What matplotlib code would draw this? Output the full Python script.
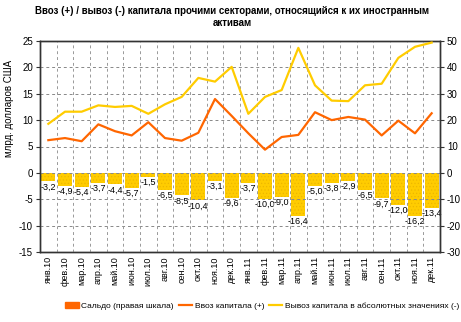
import matplotlib
matplotlib.use("Agg")
import matplotlib.pyplot as plt
import numpy as np
from matplotlib.patches import Patch
from matplotlib.lines import Line2D

plt.rcParams['font.family'] = ['Liberation Sans', 'DejaVu Sans']
plt.rcParams['hatch.linewidth'] = 0.5

months = ["янв.10", "фев.10", "мар.10", "апр.10", "май.10", "июн.10", "июл.10", "авг.10",
          "сен.10", "окт.10", "ноя.10", "дек.10", "янв.11", "фев.11", "мар.11", "апр.11",
          "май.11", "июн.11", "июл.11", "авг.11", "сен.11", "окт.11", "ноя.11", "дек.11"]
saldo = [-3.2, -4.9, -5.4, -3.7, -4.4, -5.7, -1.5, -6.5, -8.5, -10.4, -3.1, -9.6,
         -3.7, -10.0, -9.0, -16.4, -5.0, -3.8, -2.9, -6.5, -9.7, -12.0, -16.2, -13.4]
inflow = [6.2, 6.6, 6.0, 9.2, 7.9, 7.1, 9.6, 6.6, 6.1, 7.6, 14.0, 10.8,
          7.5, 4.4, 6.8, 7.2, 11.5, 10.0, 10.6, 10.1, 7.1, 9.9, 7.5, 11.3]
outflow = [9.3, 11.6, 11.6, 12.8, 12.5, 12.7, 11.2, 13.0, 14.4, 18.0, 17.3, 20.1,
           11.2, 14.4, 15.7, 23.7, 16.6, 13.7, 13.6, 16.6, 16.9, 21.8, 23.9, 24.7]

title = "Ввоз (+) / вывоз (-) капитала прочими секторами, относящийся к их иностранным\nактивам"
ylabel = "млрд. долларов США"
leg_labels = ["Сальдо (правая шкала)", "Ввоз капитала (+)", "Вывоз капитала в абсолютных значениях (-)"]

c_bar = "#FFCC00"
c_orange = "#FF6600"
c_yellow = "#FFCC00"
spine_c = "#333333"

fig = plt.figure(figsize=(4.61, 3.22), dpi=100)
ax = fig.add_axes([40/461, 1 - 252/322, 400/461, (252-41)/322])
ax2 = ax.twinx()

x = np.arange(len(months))
ax2.bar(x, saldo, width=0.84, color=c_bar, hatch='.....', edgecolor='#EDB800', linewidth=0, zorder=2)
for xi, v in zip(x, saldo):
    ax2.text(xi, v - 0.4, f"{v:.1f}".replace('.', ','), ha='center', va='top', fontsize=6.5,
             color='black', fontstretch='condensed')

ax.plot(x, inflow, color=c_orange, lw=1.6, zorder=5)
ax.plot(x, outflow, color=c_yellow, lw=1.6, zorder=5)
ax.set_zorder(ax2.get_zorder() + 1)
ax.patch.set_visible(False)

ax.set_xlim(-0.5, len(months) - 0.5)
ax.set_ylim(-15, 25)
ax2.set_ylim(-30, 50)
ax.set_yticks(np.arange(-15, 26, 5))
ax2.set_yticks(np.arange(-30, 51, 10))
ax.set_yticklabels([str(t) for t in range(-15, 26, 5)], fontsize=7)
ax2.set_yticklabels([str(t) for t in range(-30, 51, 10)], fontsize=7)

ax.set_xticks(x)
ax.set_xticklabels(months, rotation=90, fontsize=6.5)
ax.tick_params(axis='x', length=0, pad=3)
ax.tick_params(axis='y', length=3, color=spine_c, pad=2)
ax2.tick_params(axis='y', length=3, color=spine_c, pad=2)

# grid
for yv in np.arange(-10, 25, 5):
    ax.axhline(yv, color='#888888', lw=0.7, ls=(0, (3, 3)), zorder=0)
for xb in np.arange(0.5, len(months) - 1, 1):
    ax.axvline(xb, color='#999999', lw=0.7, ls=(0, (3, 3)), zorder=0)

for a in (ax, ax2):
    for s in a.spines.values():
        s.set_color(spine_c)
        s.set_linewidth(1.0)

ax.set_ylabel(ylabel, fontsize=7)
ax.yaxis.set_label_coords(-0.066, 0.68)

fig.text(232/461, 1 - 6/322, title, ha='center', va='top', fontsize=7, fontweight='bold', linespacing=1.3)

handles = [Patch(facecolor=c_orange, edgecolor=c_orange),
           Line2D([0], [0], color=c_orange, lw=1.6),
           Line2D([0], [0], color=c_yellow, lw=1.6)]
fig.legend(handles, leg_labels, loc='center right', bbox_to_anchor=(460/461, 1 - 306/322), ncol=3,
           frameon=False, fontsize=6, handlelength=1.6, handletextpad=0.3, columnspacing=0.6,
           handleheight=0.8, borderaxespad=0, borderpad=0.1)

fig.savefig("out.png", dpi=100)
